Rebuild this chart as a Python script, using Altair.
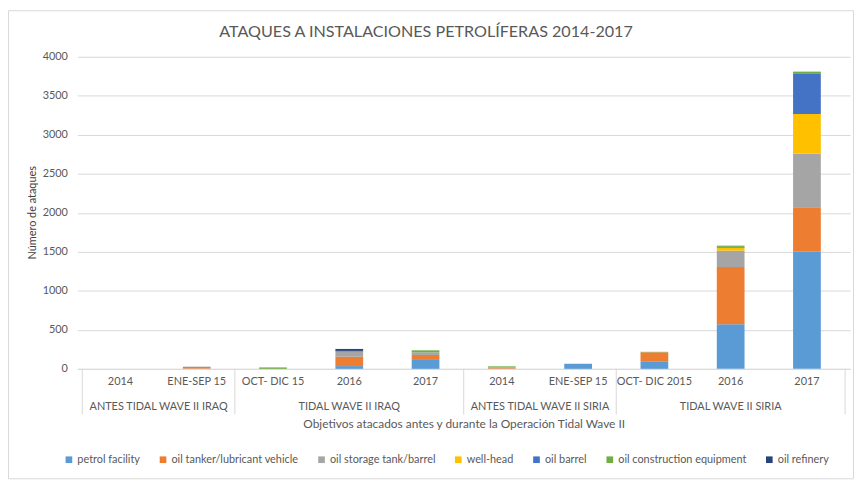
import altair as alt
import pandas as pd

title_text = "ATAQUES A INSTALACIONES PETROLÍFERAS 2014-2017"
categories = ["2014", "ENE-SEP 15", "OCT- DIC 15", "2016", "2017",
              "2014", "ENE-SEP 15", "OCT- DIC 2015", "2016", "2017"]
groups = ["ANTES TIDAL WAVE II IRAQ", "TIDAL WAVE II IRAQ",
          "ANTES TIDAL WAVE II SIRIA", "TIDAL WAVE II SIRIA"]
group_sizes = [2, 3, 2, 3]

series = ["petrol facility", "oil tanker/lubricant vehicle", "oil storage tank/barrel",
          "well-head", "oil barrel", "oil construction equipment", "oil refinery"]
colors = ["#5B9BD5", "#ED7D31", "#A5A5A5", "#FFC000", "#4472C4", "#70AD47", "#264478"]

petrol_facility = [0, 3, 0, 35, 114, 0, 65, 97, 571, 1500]
oil_tanker = [0, 22, 0, 120, 64, 8, 0, 115, 733, 570]
oil_storage = [0, 3, 0, 65, 34, 12, 0, 0, 211, 690]
well_head = [0, 0, 0, 0, 0, 0, 0, 0, 38, 507]
oil_barrel = [0, 0, 0, 10, 0, 0, 0, 0, 10, 513]
oil_construction = [0, 0, 18, 0, 25, 12, 0, 6, 16, 30]
oil_refinery = [0, 0, 0, 25, 0, 0, 0, 0, 0, 0]

values = [petrol_facility, oil_tanker, oil_storage, well_head,
          oil_barrel, oil_construction, oil_refinery]

FONT = "Lato"
GREY = "#595959"
W, H = 780, 315

rows = []
for k, (s, vals) in enumerate(zip(series, values)):
    for i, v in enumerate(vals):
        rows.append({"pos": i + 0.5, "serie": s, "k": k, "value": v})
df = pd.DataFrame(rows)

cat_df = pd.DataFrame({"pos": [i + 0.5 for i in range(len(categories))], "label": categories})

bounds = [0]
for n in group_sizes:
    bounds.append(bounds[-1] + n)
grp_df = pd.DataFrame({"pos": [(bounds[j] + bounds[j + 1]) / 2 for j in range(len(groups))],
                       "label": groups})
sep_df = pd.DataFrame({"pos": bounds})

xscale = alt.Scale(domain=[0, len(categories)], nice=False, zero=False)

bars = alt.Chart(df).mark_bar(width=28).encode(
    x=alt.X("pos:Q", scale=xscale,
            axis=alt.Axis(title="Objetivos atacados antes y durante la Operación Tidal Wave II",
                          labels=False, ticks=False, grid=False, domain=True,
                          domainColor="#D9D9D9", titlePadding=50, titleFont=FONT,
                          titleFontSize=12, titleFontWeight="normal", titleColor=GREY)),
    y=alt.Y("value:Q", stack="zero",
            scale=alt.Scale(domain=[0, 4000], nice=False),
            axis=alt.Axis(title="Número de ataques", values=list(range(0, 4001, 500)),
                          format="d",
                          domain=False, ticks=False, gridColor="#D9D9D9", labelPadding=10,
                          labelFont=FONT, labelFontSize=11, labelColor=GREY,
                          titleFont=FONT, titleFontSize=11, titleFontWeight="normal",
                          titleColor="#404040", titleX=-45, titleY=157, titleBaseline="middle")),
    color=alt.Color("serie:N", scale=alt.Scale(domain=series, range=colors),
                    legend=alt.Legend(title=None, orient="none", direction="horizontal",
                                      legendX=-14, legendY=401, symbolType="square",
                                      symbolSize=45, symbolStrokeWidth=0,
                                      labelFont=FONT, labelFontSize=11, labelColor=GREY,
                                      columnPadding=17, symbolOffset=0, labelOffset=3)),
    order=alt.Order("k:Q", sort="ascending"),
)

cat_text = alt.Chart(cat_df).mark_text(font=FONT, fontSize=11, color=GREY, baseline="middle").encode(
    x=alt.X("pos:Q", scale=xscale),
    y=alt.value(H + 13),
    text="label:N",
)

grp_text = alt.Chart(grp_df).mark_text(font=FONT, fontSize=11, color=GREY, baseline="middle").encode(
    x=alt.X("pos:Q", scale=xscale),
    y=alt.value(H + 39),
    text="label:N",
)

seps = alt.Chart(sep_df).mark_rule(color="#D9D9D9", strokeWidth=1).encode(
    x=alt.X("pos:Q", scale=xscale),
    y=alt.value(H),
    y2=alt.value(H + 46),
)

frame = alt.Chart(pd.DataFrame({"a": [0]})).mark_rect(
    fillOpacity=0, stroke="#D9D9D9", strokeWidth=1
).encode(
    x=alt.value(-69.5), x2=alt.value(W + 3.5),
    y=alt.value(-46.5), y2=alt.value(H + 111),
)

title = alt.Chart(pd.DataFrame({"t": [title_text]})).mark_text(
    font=FONT, fontSize=16.3, color=GREY, baseline="middle", align="center"
).encode(
    x=alt.value(W / 2 - 38), y=alt.value(-25), text="t:N",
)

chart = alt.layer(frame, bars, seps, cat_text, grp_text, title).properties(
    width=W, height=H,
    padding={"left": 70, "top": 47, "right": 4, "bottom": 113},
    autosize=alt.AutoSizeParams(type="none"),
).configure_view(stroke=None)

chart.save("out.html", embed_options={"renderer": "svg", "actions": False})
